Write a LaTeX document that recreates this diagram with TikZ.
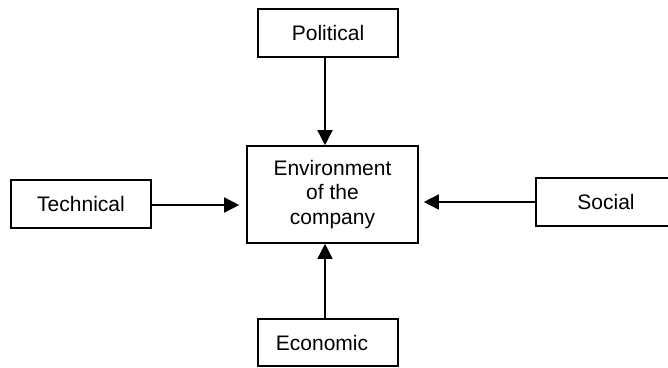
\documentclass[tikz,border=0pt]{standalone}
\usepackage{fontspec}
\setmainfont{Liberation Sans}
\usetikzlibrary{arrows.meta}
\begin{document}
\begin{tikzpicture}[x=1pt,y=-1pt,
  box/.style={draw=black,line width=1.6pt,inner sep=0pt,minimum width=140pt,minimum height=48pt,
    font=\fontsize{21}{24.5}\selectfont,align=center},
  conn/.style={line width=1.5pt,-{Triangle[length=15pt,width=15pt]}}]
\useasboundingbox (0,0) rectangle (668,367);
\clip (0,0) rectangle (668,367);
\node[box,minimum width=171pt,minimum height=97pt] (env) at (332.5,194.5) {Environment\\of the\\company};
\node[box] (pol) at (328,33) {Political};
\node[box] (tech) at (81,204) {Technical};
\node[box] (soc) at (606,202) {Social};
\node[box,minimum height=47pt] (eco) at (328,342.5) {Economic\hspace*{12pt}};
\draw[conn] ([xshift=-3pt]pol.south) -- ([xshift=-3pt]pol.south |- env.north);
\draw[conn] ([xshift=-3pt]eco.north) -- ([xshift=-3pt]eco.north |- env.south);
\draw[conn,shorten >=7pt] ([yshift=-1pt]tech.east) -- ([yshift=-1pt]tech.east -| env.west);
\draw[conn,shorten >=5pt] (soc.west) -- (soc.west -| env.east);
\end{tikzpicture}
\end{document}
